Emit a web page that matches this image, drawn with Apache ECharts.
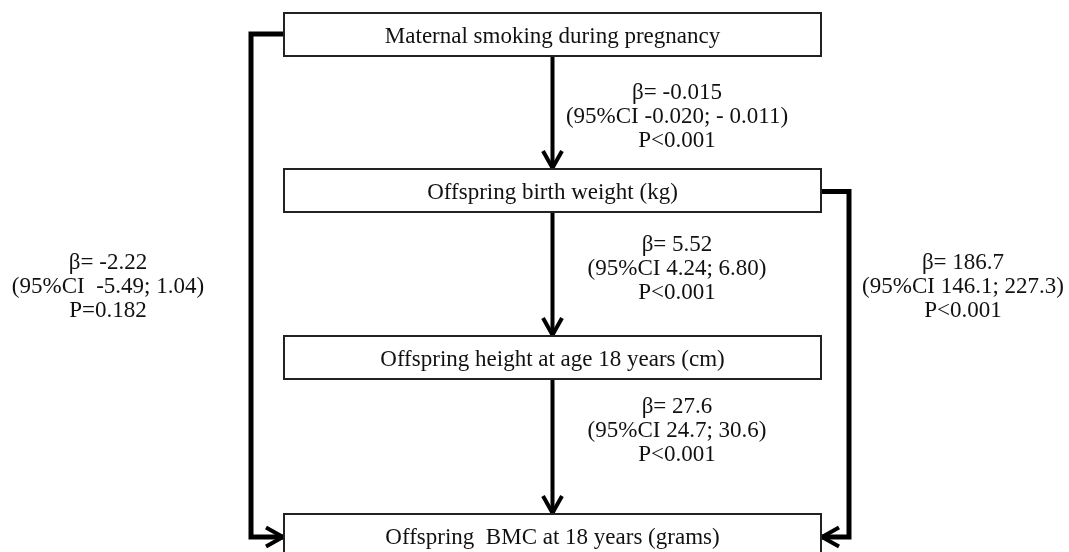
<!DOCTYPE html>
<html>
<head>
<meta charset="utf-8">
<script src="https://cdn.jsdelivr.net/npm/echarts@6/dist/echarts.min.js"></script>
<style>
html, body { margin: 0; padding: 0; background: #fff; }
#chart { width: 1069px; height: 552px; }
</style>
</head>
<body>
<div id="chart"></div>
<script>
// variables of the path model (top to bottom)
const boxLabels = [
  'Maternal smoking during pregnancy',
  'Offspring birth weight (kg)',
  'Offspring height at age 18 years (cm)',
  'Offspring  BMC at 18 years (grams)'
];

// paths: from -> to, with estimate, 95% CI and P value
const pathFrom = [0, 1, 2, 1, 0];
const pathTo   = [1, 2, 3, 3, 3];
const betas    = ['-0.015', '5.52', '27.6', '186.7', '-2.22'];
const ciLower  = ['-0.020', '4.24', '24.7', '146.1', ' -5.49'];
const ciUpper  = ['- 0.011', '6.80', '30.6', '227.3', '1.04'];
const pLabels  = ['P<0.001', 'P<0.001', 'P<0.001', 'P<0.001', 'P=0.182'];

// layout (diagram units = pixels of the axes below)
const boxLeft = 284, boxRight = 821, boxH = 43;
const boxTop = [13, 169, 336, 514];
const midX = (boxLeft + boxRight) / 2;
const sideLeftX = 251, sideRightX = 849, entryY = 537;
const labelPos = [[677, 117], [677, 269], [677, 431], [963, 287], [108, 287]];

const FONT = '"Liberation Serif", "Times New Roman", serif';

let myChart = echarts.init(document.getElementById('chart'));

function chevron(api, tip, dir) {
  // open arrow head, dir: 'down' | 'left' | 'right'
  const L = 17, W = 9.5;
  let a, b;
  if (dir === 'down') { a = [tip[0] - W, tip[1] - L]; b = [tip[0] + W, tip[1] - L]; }
  else if (dir === 'right') { a = [tip[0] - L, tip[1] - W]; b = [tip[0] - L, tip[1] + W]; }
  else { a = [tip[0] + L, tip[1] - W]; b = [tip[0] + L, tip[1] + W]; }
  return {
    type: 'polyline',
    shape: { points: [api.coord(a), api.coord(tip), api.coord(b)] },
    style: { stroke: '#000', lineWidth: 4, fill: null, lineJoin: 'miter' }
  };
}

let options = {
  backgroundColor: '#fff',
  animation: false,
  grid: { left: 0, right: 0, top: 0, bottom: 0 },
  xAxis: { type: 'value', min: 0, max: 1069, show: false },
  yAxis: { type: 'value', min: 0, max: 552, inverse: true, show: false },
  series: [
    {
      // connectors with arrow heads
      type: 'custom',
      data: pathFrom.map((f, i) => [i, f, pathTo[i]]),
      renderItem: function (params, api) {
        const f = api.value(1), t = api.value(2);
        const children = [];
        let pts, tip, dir, lw;
        if (t === f + 1) {
          pts = [[midX, boxTop[f] + boxH], [midX, boxTop[t] - 1]];
          tip = [midX, boxTop[t] - 1]; dir = 'down'; lw = 4;
        } else if (f === 0) {
          const y0 = boxTop[f] + boxH / 2 - 0.5;
          pts = [[boxLeft, y0], [sideLeftX, y0], [sideLeftX, entryY], [boxLeft - 1, entryY]];
          tip = [boxLeft - 1, entryY]; dir = 'right'; lw = 5;
        } else {
          const y0 = boxTop[f] + boxH / 2 + 1;
          pts = [[boxRight, y0], [sideRightX, y0], [sideRightX, entryY], [boxRight + 1, entryY]];
          tip = [boxRight + 1, entryY]; dir = 'left'; lw = 5;
        }
        children.push({
          type: 'polyline',
          shape: { points: pts.map(p => api.coord(p)) },
          style: { stroke: '#000', lineWidth: lw, fill: null, lineJoin: 'miter' }
        });
        children.push(chevron(api, tip, dir));
        return { type: 'group', children: children };
      },
      z: 2
    },
    {
      // boxes
      type: 'custom',
      data: boxLabels.map((name, i) => [i]),
      renderItem: function (params, api) {
        const i = api.value(0);
        const p0 = api.coord([boxLeft, boxTop[i]]);
        const p1 = api.coord([boxRight, boxTop[i] + boxH]);
        return {
          type: 'group',
          children: [
            {
              type: 'rect',
              shape: { x: p0[0], y: p0[1], width: p1[0] - p0[0], height: p1[1] - p0[1] },
              style: { fill: '#fff', stroke: '#222', lineWidth: 2 }
            },
            {
              type: 'text',
              style: {
                text: boxLabels[i],
                x: (p0[0] + p1[0]) / 2, y: (p0[1] + p1[1]) / 2 + 2,
                align: 'center', verticalAlign: 'middle',
                fontFamily: FONT, fontSize: 23, fill: '#111'
              }
            }
          ]
        };
      },
      z: 3
    },
    {
      // path estimates
      type: 'custom',
      data: betas.map((b, i) => [i]),
      renderItem: function (params, api) {
        const i = api.value(0);
        const p = api.coord(labelPos[i]);
        const txt = 'β= ' + betas[i] + '\n(95%CI ' + ciLower[i] + '; ' + ciUpper[i] + ')\n' + pLabels[i];
        return {
          type: 'text',
          style: {
            text: txt, x: p[0], y: p[1],
            align: 'center', verticalAlign: 'middle',
            fontFamily: FONT, fontSize: 23, lineHeight: 24, fill: '#111'
          }
        };
      },
      z: 4
    }
  ]
};
myChart.setOption(options);
</script>
</body>
</html>
